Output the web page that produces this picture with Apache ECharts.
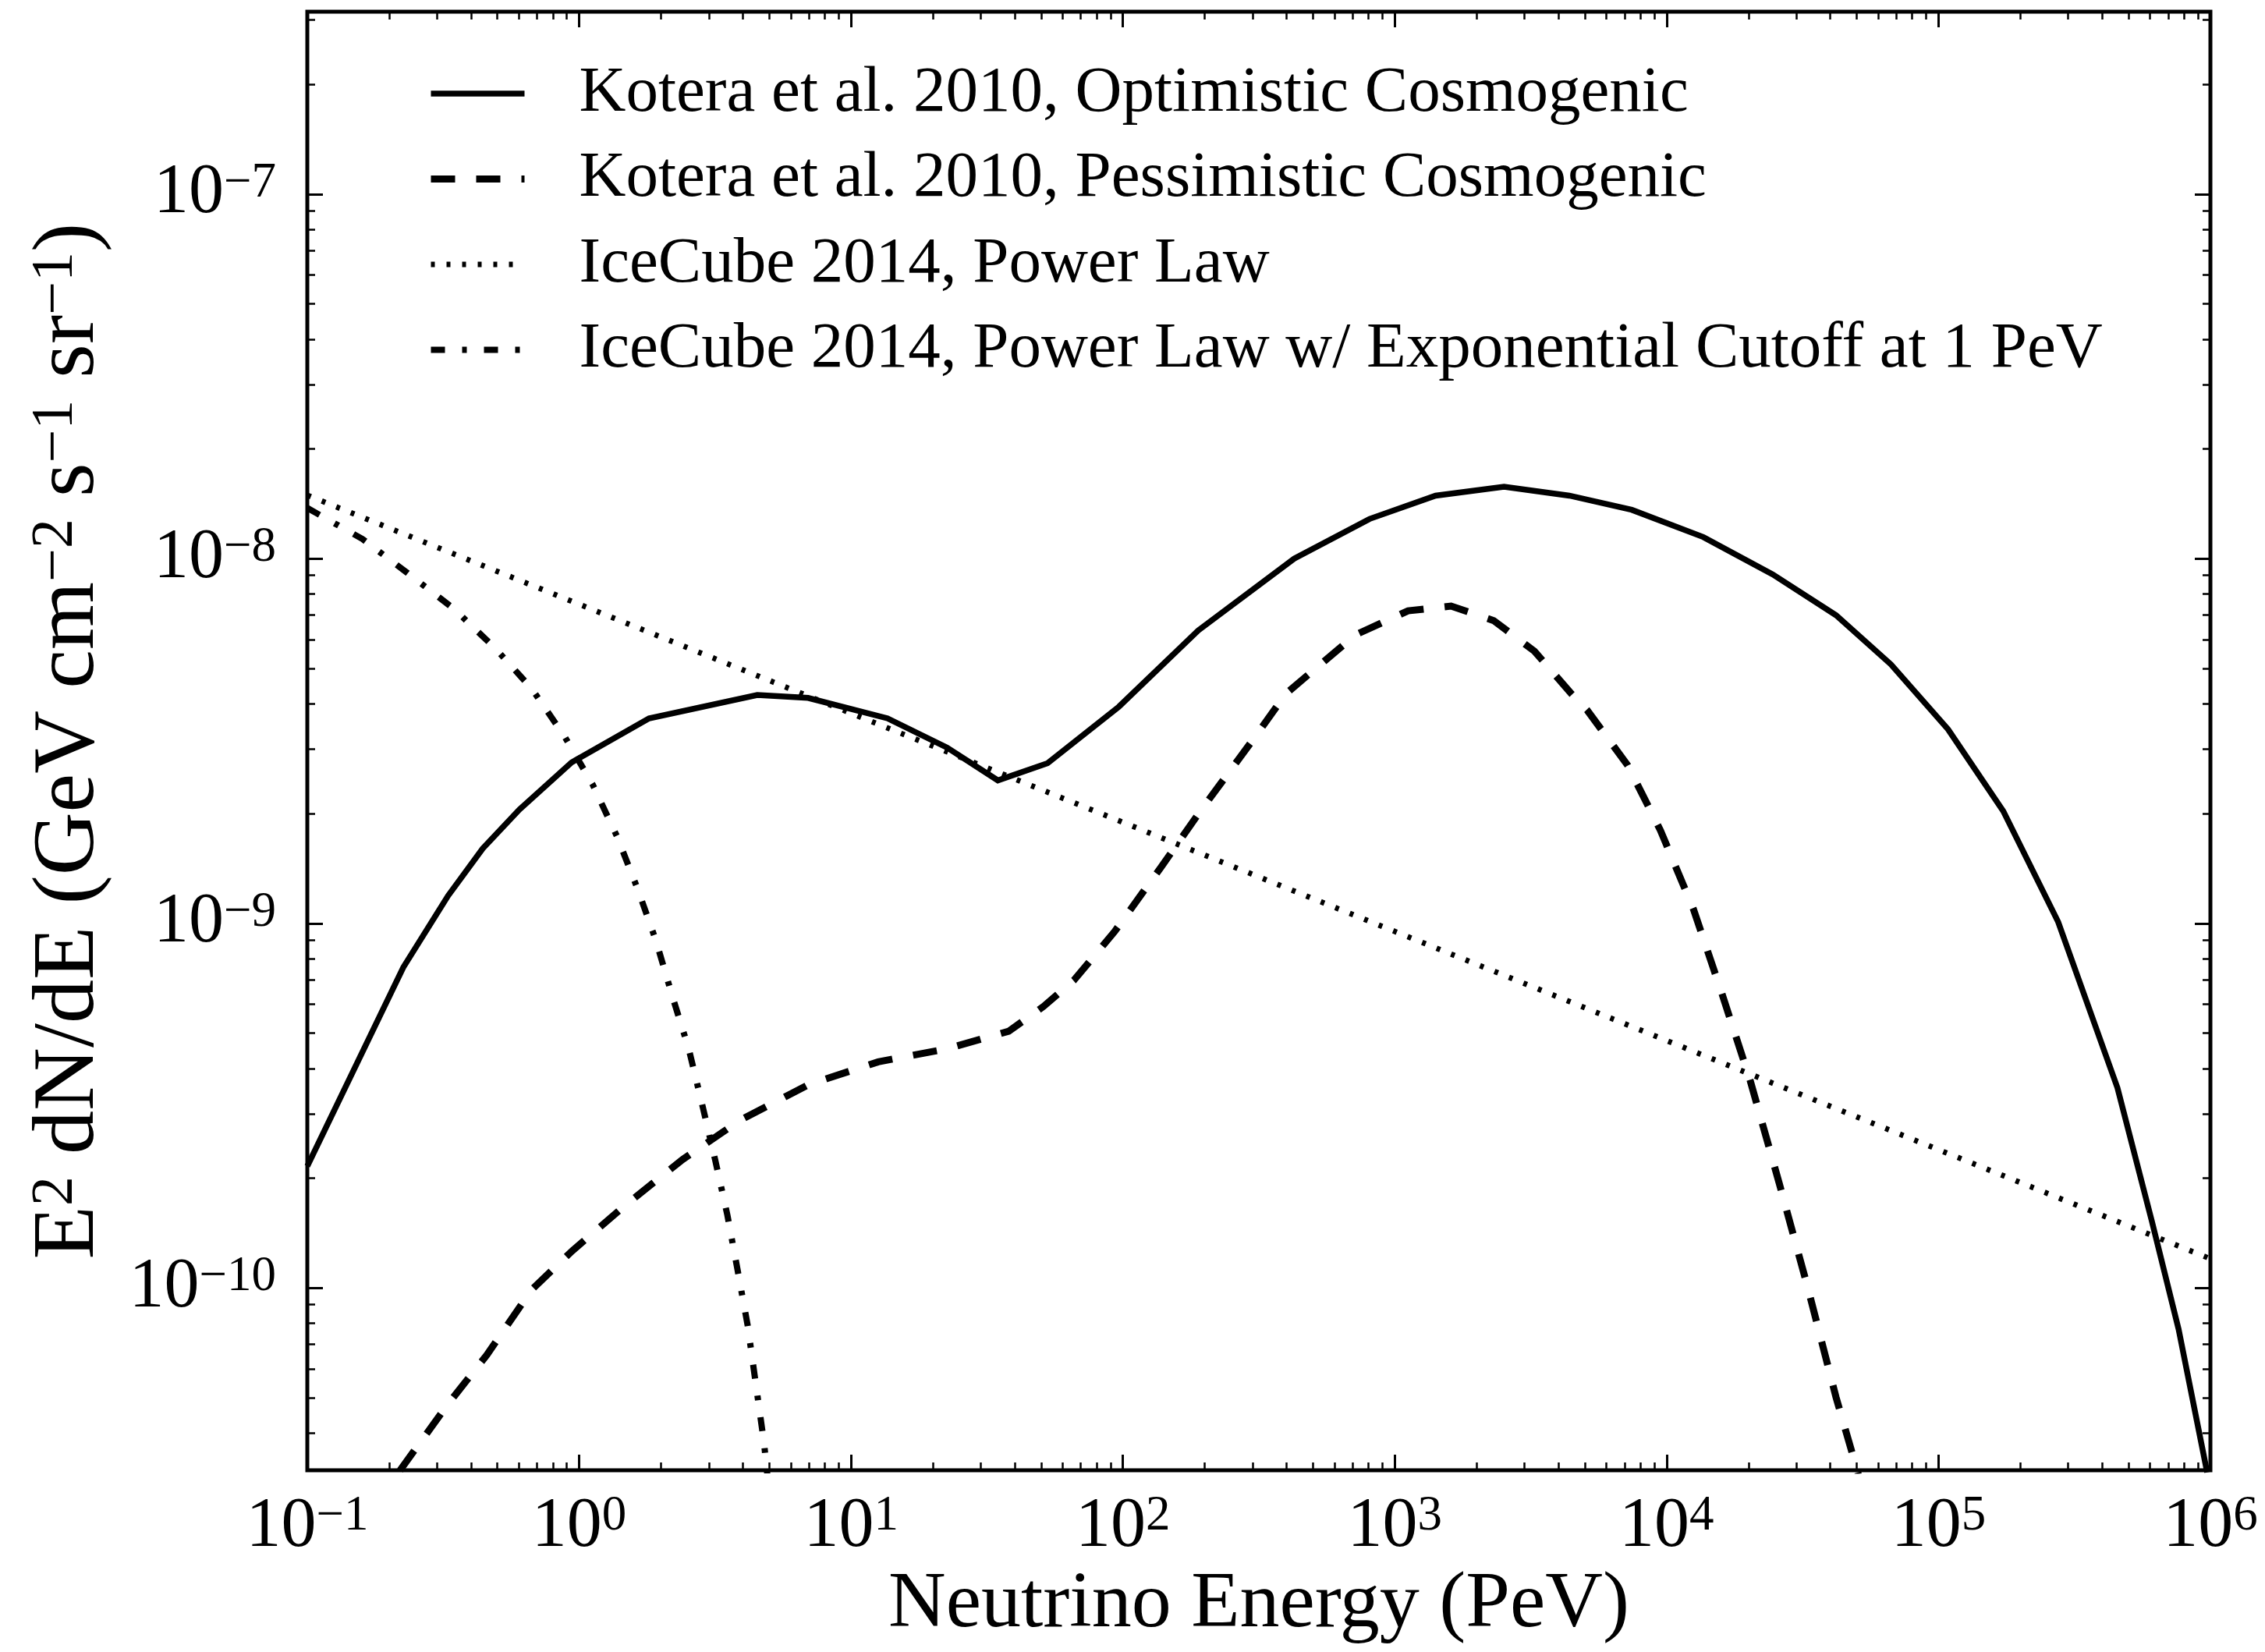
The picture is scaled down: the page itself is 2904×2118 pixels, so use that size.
<!DOCTYPE html>
<html>
<head>
<meta charset="utf-8">
<script src="https://cdn.jsdelivr.net/npm/echarts@6/dist/echarts.min.js"></script>
<style>
html,body{margin:0;padding:0;background:#fff;}
#chart{width:2904px;height:2118px;}
</style>
</head>
<body>
<div id="chart"></div>
<script>
// ---------------- data ----------------
const seriesNames = [
  'Kotera et al. 2010, Optimistic Cosmogenic',
  'Kotera et al. 2010, Pessimistic Cosmogenic',
  'IceCube 2014, Power Law',
  'IceCube 2014, Power Law w/ Exponential Cutoff at 1 PeV'
];

// Neutrino energy in PeV, E^2 dN/dE in GeV cm^-2 s^-1 sr^-1
const optimisticEnergy = [0.1, 0.2254, 0.3296, 0.4416, 0.6026, 0.9376, 1.807, 4.519, 6.950, 13.61,
  22.54, 34.67, 52.84, 96.6, 189.2, 426.6, 807.2, 1413, 2523, 4385,
  7447, 13650, 24550, 41980, 66830, 108400, 173000, 275400, 455000, 609500, 763800, 972800];
const optimisticFlux = [2.158e-10, 7.57e-10, 1.191e-9, 1.603e-9, 2.051e-9, 2.761e-9, 3.648e-9, 4.227e-9, 4.150e-9, 3.648e-9,
  3.034e-9, 2.466e-9, 2.748e-9, 3.926e-9, 6.353e-9, 1.0e-8, 1.285e-8, 1.489e-8, 1.574e-8, 1.489e-8,
  1.361e-8, 1.146e-8, 9.057e-9, 6.998e-9, 5.129e-9, 3.404e-9, 2.032e-9, 1.009e-9, 3.54e-10, 1.521e-10, 7.71e-11, 3.12e-11];

const pessimisticEnergy = [0.2193, 0.3296, 0.4571, 0.6683, 0.9441, 1.479, 2.399, 3.890, 6.998, 12.59,
  22.54, 38.02, 51.05, 66.07, 93.33, 138.7, 192.8, 302.0, 398.1, 716.1,
  1119, 1611, 2312, 3266, 4457, 5093, 7194, 9484, 12530, 15960,
  20320, 25880, 32960, 41980, 50700];
const pessimisticFlux = [3.162e-11, 4.808e-11, 6.546e-11, 9.886e-11, 1.265e-10, 1.687e-10, 2.249e-10, 2.877e-10, 3.614e-10, 4.169e-10,
  4.529e-10, 5.058e-10, 5.916e-10, 6.982e-10, 9.506e-10, 1.432e-9, 2.032e-9, 3.199e-9, 4.266e-9, 6.180e-9,
  7.194e-9, 7.413e-9, 6.761e-9, 5.572e-9, 4.266e-9, 3.846e-9, 2.710e-9, 1.799e-9, 1.096e-9, 6.427e-10,
  3.690e-10, 1.950e-10, 1.009e-10, 5.012e-11, 3.083e-11];

const powerLawEnergy = [0.1, 100, 1000000];
const powerLawFlux = [1.493e-8, 1.892e-9, 1.202e-10];

const cutoffEnergy = [0.1, 0.1596, 0.2333, 0.3467, 0.4898, 0.6683, 0.8810, 1.122, 1.380, 1.641,
  1.919, 2.203, 2.529, 2.851, 3.162, 3.508, 3.828, 4.169, 4.467, 4.786, 4.920];
const cutoffFlux = [1.377e-8, 1.132e-8, 9.142e-9, 7.278e-9, 5.689e-9, 4.406e-9, 3.266e-9, 2.399e-9, 1.726e-9, 1.242e-9,
  8.933e-10, 6.295e-10, 4.529e-10, 3.126e-10, 2.249e-10, 1.585e-10, 1.117e-10, 7.870e-11, 5.433e-11, 3.758e-11, 3.083e-11];

// tick labels (powers of ten)
const xTickExponents = [-1, 0, 1, 2, 3, 4, 5, 6];
const yTickExponents = [-10, -9, -8, -7];
const xRange = [-1, 6];        // log10 PeV
const yRange = [-10.5, -6.5];  // log10 flux

// ---------------- helpers ----------------
const FONT = 'Liberation Serif';
const MINUS = '\u2212';
function toLogPairs(xs, ys) { return xs.map((x, i) => [Math.log10(x), Math.log10(ys[i])]); }
function minorTicks(lo, hi) {
  const out = [];
  for (let d = Math.floor(lo) - 1; d <= Math.ceil(hi); d++) {
    for (let k = 2; k <= 9; k++) {
      const v = d + Math.log10(k);
      if (v > lo + 1e-9 && v < hi - 1e-9) out.push(v);
    }
  }
  return out;
}
function powLabel(v) {
  const e = Math.round(v);
  return '{b|10}{s|' + (e < 0 ? MINUS + (-e) : String(e)) + '}';
}
const tickRich = {
  b: { fontFamily: FONT, fontSize: 90, lineHeight: 90, color: '#000' },
  s: { fontFamily: FONT, fontSize: 63, lineHeight: 40, verticalAlign: 'top', color: '#000' }
};
const xMinor = minorTicks(xRange[0], xRange[1]);
const yMinor = minorTicks(yRange[0], yRange[1]);

function makeAxis(kind, position, ticks, len, withLabels) {
  const range = kind === 'x' ? xRange : yRange;
  const ax = {
    type: 'value', position: position, min: range[0], max: range[1],
    axisLine: { show: false, onZero: false }, splitLine: { show: false },
    axisTick: { show: true, inside: true, length: len, customValues: ticks,
                lineStyle: { color: '#000', width: len > 15 ? 3 : 2.5 } },
    axisLabel: { show: false }
  };
  if (withLabels) {
    ax.axisLabel = {
      show: true, customValues: ticks, formatter: powLabel, rich: tickRich,
      margin: kind === 'x' ? 28 : 40, color: '#000'
    };
  }
  return ax;
}

const xAxes = [
  makeAxis('x', 'bottom', xTickExponents, 20, true),
  makeAxis('x', 'bottom', xMinor, 10, false),
  makeAxis('x', 'top', xTickExponents, 20, false),
  makeAxis('x', 'top', xMinor, 10, false)
];
Object.assign(xAxes[0], {
  name: 'Neutrino Energy (PeV)', nameLocation: 'middle', nameGap: 122, nameMoveOverlap: false,
  nameTextStyle: { fontFamily: FONT, fontSize: 102, color: '#000' }
});
const yAxes = [
  makeAxis('y', 'left', yTickExponents, 20, true),
  makeAxis('y', 'left', yMinor, 10, false),
  makeAxis('y', 'right', yTickExponents, 20, false),
  makeAxis('y', 'right', yMinor, 10, false)
];
Object.assign(yAxes[0], {
  name: '{n|E}{s|2}{n| dN/dE (GeV cm}{s|' + MINUS + '2}{n| s}{s|' + MINUS + '1}{n| sr}{s|' + MINUS + '1}{n|)}',
  nameLocation: 'middle', nameRotate: 90, nameGap: 248, nameMoveOverlap: false,
  nameTextStyle: {
    rich: {
      n: { fontFamily: FONT, fontSize: 112, lineHeight: 112, color: '#000' },
      s: { fontFamily: FONT, fontSize: 76, lineHeight: 48, verticalAlign: 'top', color: '#000' }
    }
  }
});

const styles = [
  { width: 7.5, type: 'solid' },
  { width: 9, type: [31, 27] },
  { width: 7, type: [5, 15] },
  { width: 8, type: [18, 22, 6, 22] }
];
const dataSets = [
  toLogPairs(optimisticEnergy, optimisticFlux),
  toLogPairs(pessimisticEnergy, pessimisticFlux),
  toLogPairs(powerLawEnergy, powerLawFlux),
  toLogPairs(cutoffEnergy, cutoffFlux)
];

const chart = echarts.init(document.getElementById('chart'), null, { renderer: 'canvas' });
chart.setOption({
  animation: false,
  backgroundColor: '#fff',
  grid: { left: 394, right: 70, top: 15, bottom: 233, show: true, borderColor: '#000', borderWidth: 5, backgroundColor: 'transparent', containLabel: false },
  xAxis: xAxes,
  yAxis: yAxes,
  legend: {
    show: true, orient: 'vertical', left: 543, top: 70, itemWidth: 120, itemHeight: 20, itemGap: 19.5,
    selectedMode: false,
    lineStyle: { width: 'inherit' },
    itemStyle: { color: 'rgba(0,0,0,0)', borderWidth: 0, opacity: 0 },
    textStyle: { fontFamily: FONT, fontSize: 83, lineHeight: 90, color: '#000', padding: [0, 0, 0, 65] },
    data: seriesNames
  },
  series: seriesNames.map((name, i) => ({
    name: name, type: 'line', xAxisIndex: 0, yAxisIndex: 0,
    data: dataSets[i], symbol: 'none', showSymbol: false, smooth: false, clip: true,
    lineStyle: { color: '#000', width: styles[i].width, type: styles[i].type, cap: 'butt', join: 'miter' },
    itemStyle: { color: '#000' },
    emphasis: { disabled: true }
  }))
});
</script>
</body>
</html>
